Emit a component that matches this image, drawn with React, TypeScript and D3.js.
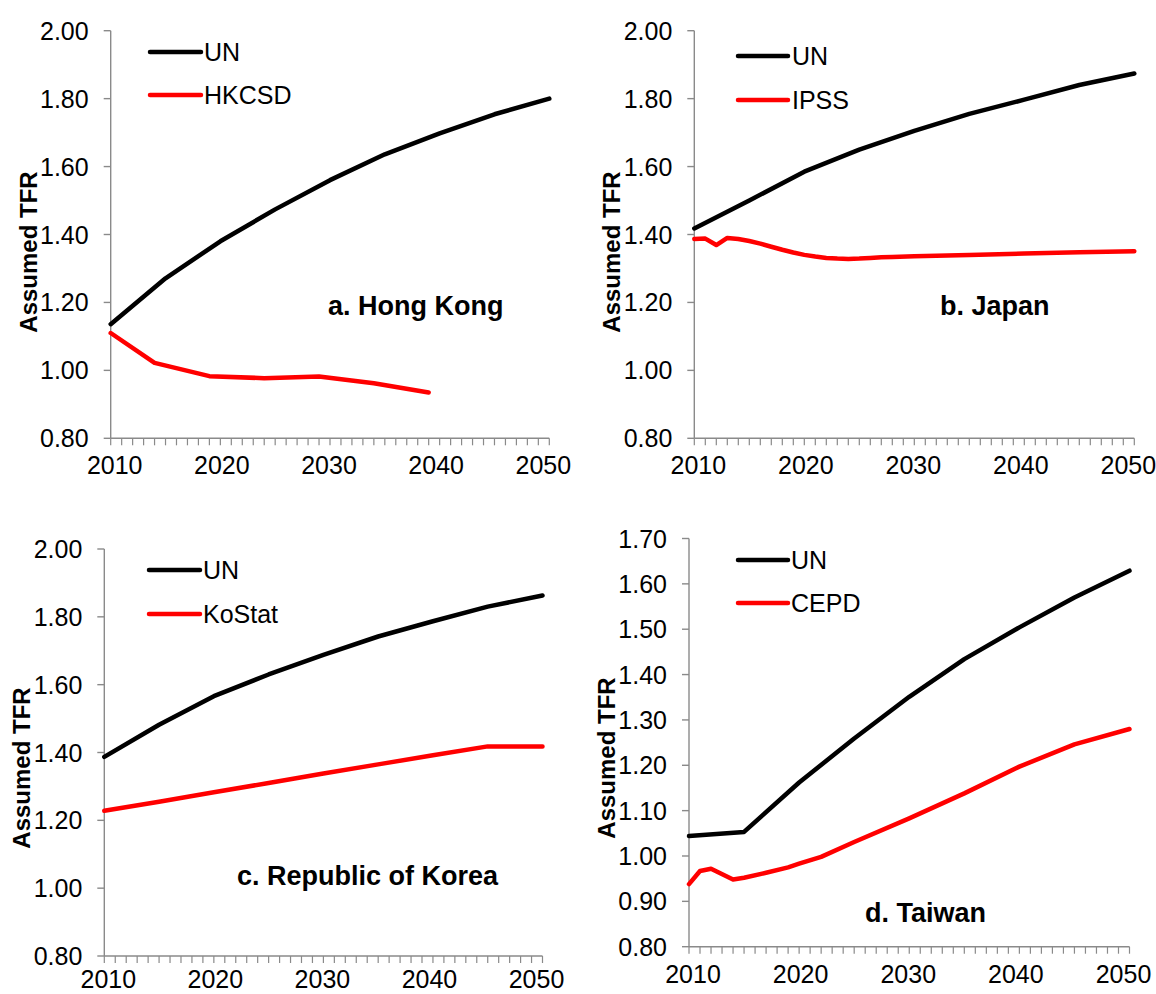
import React from "react";
import * as d3 from "d3";

// ---------- data ----------
const unYears = [2010, 2015, 2020, 2025, 2030, 2035, 2040, 2045, 2050];
const xTickLabels = [2010, 2020, 2030, 2040, 2050];

const hkUN = [1.136, 1.271, 1.38, 1.474, 1.56, 1.636, 1.698, 1.754, 1.8];
const hkcsdYears = [2010, 2014, 2019, 2024, 2029, 2034, 2039];
const hkcsdValues = [1.11, 1.022, 0.983, 0.977, 0.982, 0.962, 0.935];

const jpUN = [1.418, 1.5, 1.585, 1.65, 1.705, 1.755, 1.797, 1.84, 1.874];
const ipssYears = [2010, 2011, 2012, 2013, 2014, 2015, 2016, 2017, 2018, 2019, 2020, 2021, 2022, 2023, 2024, 2025, 2026, 2027, 2028, 2030, 2035, 2040, 2045, 2050];
const ipssValues = [1.387, 1.388, 1.369, 1.39, 1.387, 1.381, 1.373, 1.364, 1.355, 1.347, 1.34, 1.335, 1.331, 1.329, 1.328, 1.329, 1.331, 1.333, 1.334, 1.336, 1.34, 1.344, 1.348, 1.351];

const krUN = [1.387, 1.482, 1.566, 1.63, 1.688, 1.742, 1.787, 1.83, 1.863];
const kostatYears = [2010, 2015, 2020, 2025, 2030, 2035, 2040, 2045, 2050];
const kostatValues = [1.228, 1.255, 1.283, 1.31, 1.338, 1.365, 1.392, 1.418, 1.418];

const twUN = [1.044, 1.053, 1.162, 1.259, 1.351, 1.434, 1.504, 1.57, 1.629];
const cepdYears = [2010, 2011, 2012, 2014, 2015, 2017, 2019, 2020, 2022, 2025, 2030, 2035, 2040, 2045, 2050];
const cepdValues = [0.938, 0.967, 0.972, 0.948, 0.952, 0.963, 0.975, 0.983, 0.998, 1.031, 1.083, 1.138, 1.197, 1.246, 1.28];

const yTicksA = [0.8, 1.0, 1.2, 1.4, 1.6, 1.8, 2.0];
const yTicksD = [0.8, 0.9, 1.0, 1.1, 1.2, 1.3, 1.4, 1.5, 1.6, 1.7];

// ---------- layout ----------
type Panel = {
  x0: number; x1: number; yTop: number; yBot: number;
  domain: [number, number]; yTicks: number[];
  unValues: number[]; natName: string; natYears: number[]; natValues: number[];
  title: string; titleX: number; titleY: number;
  axisLabelX: number; axisLabelY: number; xLabelOffset: number;
  legLineX0: number; legLineX1: number; legTextX: number; legY1: number; legY2: number;
};

const panels: Panel[] = [
  {
    x0: 110.7, x1: 549.3, yTop: 30.7, yBot: 438.3, domain: [0.8, 2.0], yTicks: yTicksA,
    unValues: hkUN, natName: "HKCSD", natYears: hkcsdYears, natValues: hkcsdValues,
    title: "a. Hong Kong", titleX: 328, titleY: 315,
    axisLabelX: 28, axisLabelY: 252, xLabelOffset: 36,
    legLineX0: 150, legLineX1: 201, legTextX: 204, legY1: 52, legY2: 95,
  },
  {
    x0: 694.3, x1: 1134.3, yTop: 30.7, yBot: 438.3, domain: [0.8, 2.0], yTicks: yTicksA,
    unValues: jpUN, natName: "IPSS", natYears: ipssYears, natValues: ipssValues,
    title: "b. Japan", titleX: 940, titleY: 315,
    axisLabelX: 611, axisLabelY: 252, xLabelOffset: 36,
    legLineX0: 738, legLineX1: 788, legTextX: 792, legY1: 56, legY2: 100,
  },
  {
    x0: 104.3, x1: 542.5, yTop: 549, yBot: 956, domain: [0.8, 2.0], yTicks: yTicksA,
    unValues: krUN, natName: "KoStat", natYears: kostatYears, natValues: kostatValues,
    title: "c. Republic of Korea", titleX: 237, titleY: 885,
    axisLabelX: 21, axisLabelY: 768, xLabelOffset: 32,
    legLineX0: 149, legLineX1: 200, legTextX: 203, legY1: 570, legY2: 614,
  },
  {
    x0: 689, x1: 1129.5, yTop: 538.5, yBot: 946.7, domain: [0.8, 1.7], yTicks: yTicksD,
    unValues: twUN, natName: "CEPD", natYears: cepdYears, natValues: cepdValues,
    title: "d. Taiwan", titleX: 865, titleY: 922,
    axisLabelX: 606, axisLabelY: 758, xLabelOffset: 36,
    legLineX0: 738, legLineX1: 788, legTextX: 791, legY1: 560, legY2: 603,
  },
];

const FONT = "'Liberation Sans', Arial, Helvetica, sans-serif";
const AXIS = "#8a8a8a";
const allYears = d3.range(2010, 2051);

function ChartPanel({ p }: { p: Panel }) {
  const x = d3.scaleLinear().domain([2010, 2050]).range([p.x0, p.x1]);
  const y = d3.scaleLinear().domain(p.domain).range([p.yBot, p.yTop]);
  // category labels are spread slightly narrower than the tick marks
  const xLab = d3.scaleLinear().domain([2010, 2050]).range([p.x0 + 4, p.x1 - 6]);
  const line = d3
    .line<[number, number]>()
    .x((d) => x(d[0]))
    .y((d) => y(d[1]));
  const unPts: [number, number][] = unYears.map((yr, i) => [yr, p.unValues[i]]);
  const natPts: [number, number][] = p.natYears.map((yr, i) => [yr, p.natValues[i]]);
  const fmt = d3.format(".2f");
  return (
    <g>
      {/* y axis */}
      <line x1={p.x0} x2={p.x0} y1={p.yTop} y2={p.yBot} stroke={AXIS} strokeWidth={1.4} />
      {p.yTicks.map((t) => (
        <g key={t}>
          <line x1={p.x0 - 7} x2={p.x0} y1={y(t)} y2={y(t)} stroke={AXIS} strokeWidth={1.4} />
          <text x={p.x0 - 22} y={y(t)} textAnchor="end" dominantBaseline="central"
            fontFamily={FONT} fontSize={25} fill="#000">{fmt(t)}</text>
        </g>
      ))}
      {/* x axis */}
      <line x1={p.x0} x2={p.x1} y1={p.yBot} y2={p.yBot} stroke={AXIS} strokeWidth={1.4} />
      {allYears.map((yr) => (
        <line key={yr} x1={x(yr)} x2={x(yr)} y1={p.yBot} y2={p.yBot + 7} stroke={AXIS} strokeWidth={1.2} />
      ))}
      {xTickLabels.map((yr) => (
        <text key={yr} x={xLab(yr)} y={p.yBot + p.xLabelOffset} textAnchor="middle"
          fontFamily={FONT} fontSize={25} fill="#000">{yr}</text>
      ))}
      {/* axis title */}
      <text transform={`translate(${p.axisLabelX},${p.axisLabelY}) rotate(-90)`}
        textAnchor="middle" dominantBaseline="central" fontFamily={FONT}
        fontSize={24} fontWeight="bold" fill="#000">Assumed TFR</text>
      {/* series */}
      <path d={line(natPts) || ""} fill="none" stroke="#ff0000" strokeWidth={4.5}
        strokeLinejoin="round" strokeLinecap="round" />
      <path d={line(unPts) || ""} fill="none" stroke="#000" strokeWidth={4.5}
        strokeLinejoin="round" strokeLinecap="round" />
      {/* legend */}
      <line x1={p.legLineX0} x2={p.legLineX1} y1={p.legY1} y2={p.legY1} stroke="#000"
        strokeWidth={4.5} strokeLinecap="round" />
      <text x={p.legTextX} y={p.legY1} dominantBaseline="central" fontFamily={FONT}
        fontSize={25} fill="#000">UN</text>
      <line x1={p.legLineX0} x2={p.legLineX1} y1={p.legY2} y2={p.legY2} stroke="#ff0000"
        strokeWidth={4.5} strokeLinecap="round" />
      <text x={p.legTextX} y={p.legY2} dominantBaseline="central" fontFamily={FONT}
        fontSize={25} fill="#000">{p.natName}</text>
      {/* panel title */}
      <text x={p.titleX} y={p.titleY} fontFamily={FONT} fontSize={27} fontWeight="bold"
        fill="#000">{p.title}</text>
    </g>
  );
}

export default function App() {
  return (
    <svg width={1156} height={994} viewBox="0 0 1156 994"
      style={{ position: "absolute", left: 0, top: 0, background: "#fff" }}>
      <rect width={1156} height={994} fill="#fff" />
      {panels.map((p, i) => (
        <ChartPanel key={i} p={p} />
      ))}
    </svg>
  );
}
